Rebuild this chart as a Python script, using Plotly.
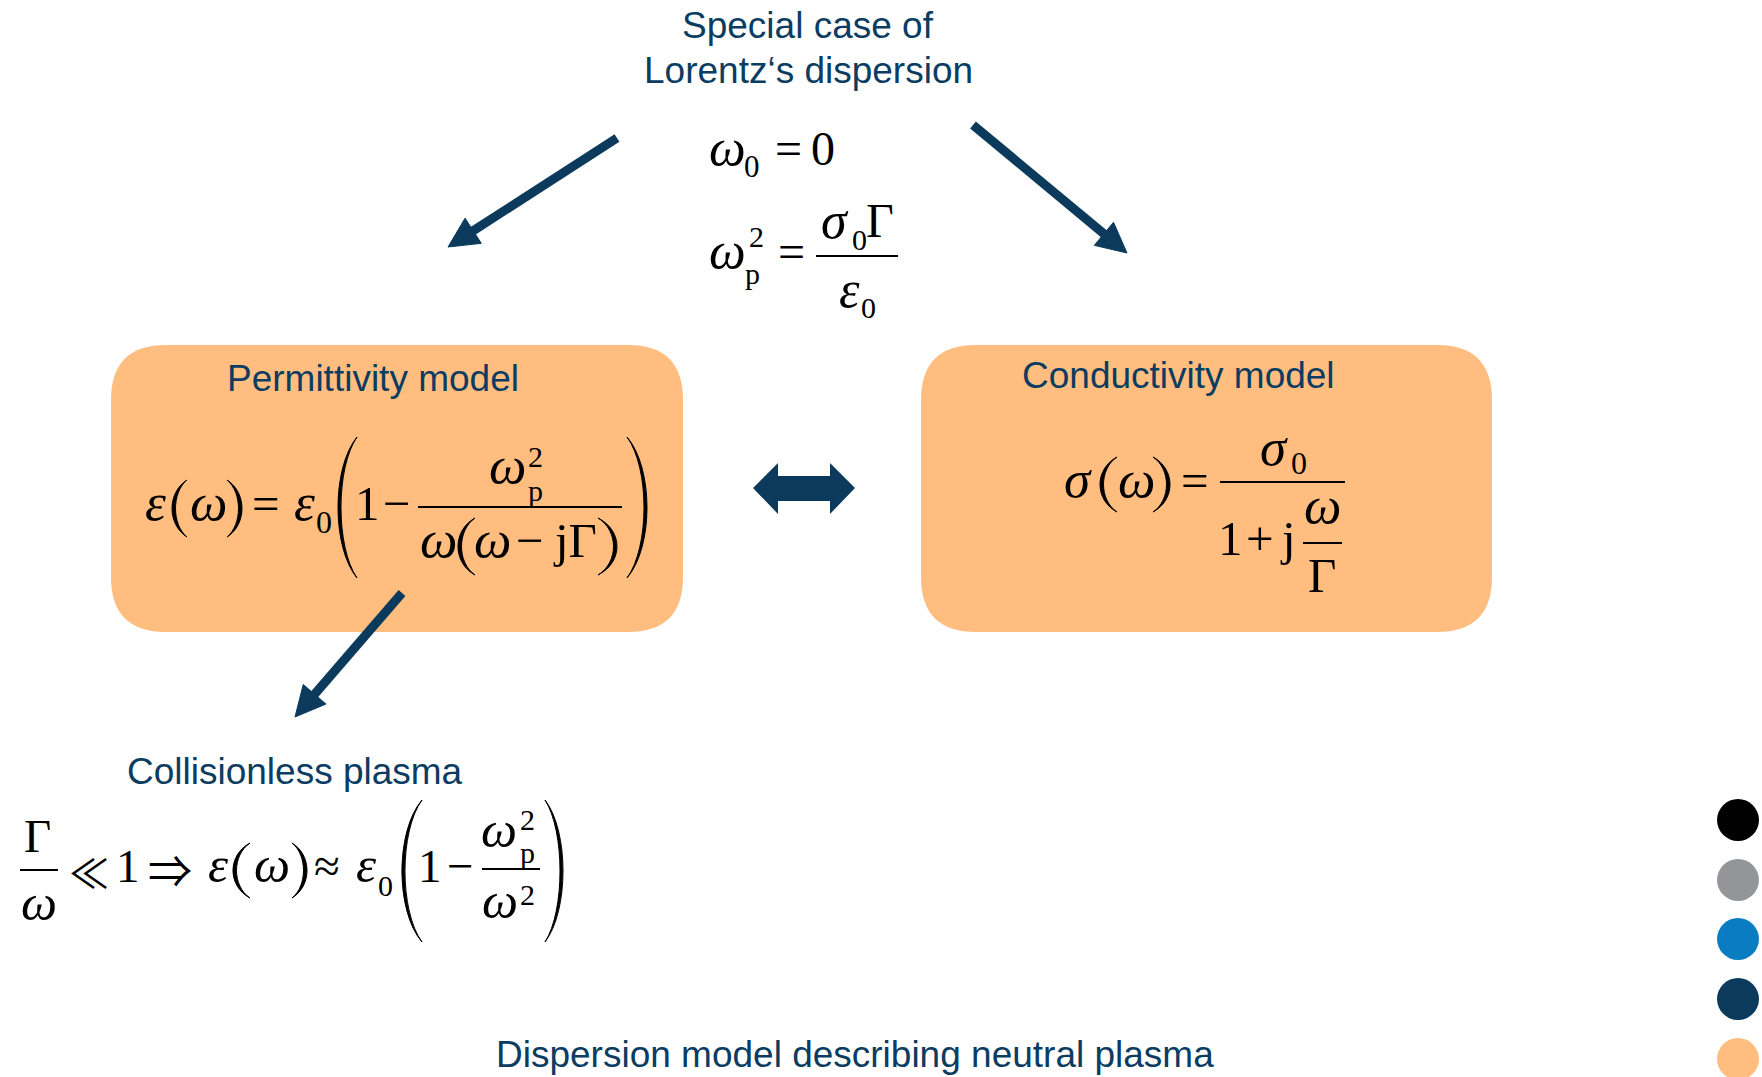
import math
import plotly.graph_objects as go

W, H = 1762, 1077

# ---------------- content ----------------
title_lines = ["Special case of", "Lorentz‘s dispersion"]
box_titles = ["Permittivity model", "Conductivity model"]
sub_title = "Collisionless plasma"
footer = "Dispersion model describing neutral plasma"
palette = ["#000000", "#939598", "#0A7DC2", "#0B3A5C", "#FFBE7F"]

TEXT_BLUE = "#0B3C61"
NAVY = "#0B3A5C"
ORANGE = "#FFBE7F"
SERIF = "Liberation Serif, Times New Roman, serif"
SANS = "Liberation Sans, Arial, sans-serif"
SYMB = "Noto Sans CJK JP, DejaVu Serif, serif"
GREEK = set("εωσ")
GREEK_SCALE = 1.08

# ---------------- layout (pixel positions) ----------------
# formula glyphs: (text, x_center, baseline, size, italic)
eq_top1 = [("ω", 727, 165, 48, True), ("0", 752, 177, 31, False),
           ("=", 788, 165, 48, False), ("0", 823, 165, 48, False)]
eq_top2 = [("ω", 727, 268, 48, True), ("2", 756, 247, 30, False), ("p", 752, 284, 30, False),
           ("=", 791, 268, 48, False),
           ("σ", 835, 238, 48, True), ("0", 859, 250, 30, False), ("Γ", 880, 237, 48, False),
           ("ε", 849, 307, 48, True), ("0", 868, 318, 30, False)]
eq_perm = [("ε", 155, 520, 49, True), ("ω", 208, 520, 49, True), ("=", 266, 520, 49, False),
           ("ε", 304, 520, 49, True), ("0", 324, 533, 32, False),
           ("1", 367, 520, 49, False), ("−", 397, 520, 49, False),
           ("ω", 507, 483, 49, True), ("2", 535, 467, 30, False), ("p", 535, 501, 30, False),
           ("ω", 438, 557, 49, True), ("ω", 492, 557, 49, True), ("−", 530, 557, 49, False),
           ("jΓ", 575, 557, 49, False)]
eq_cond = [("σ", 1078, 497, 49, True), ("ω", 1136, 497, 49, True), ("=", 1195, 497, 49, False),
           ("σ", 1274, 465, 49, True), ("0", 1299, 474, 32, False),
           ("1", 1230, 555, 49, False), ("+", 1260, 555, 49, False), ("j", 1288, 555, 49, False),
           ("ω", 1322, 523, 49, True), ("Γ", 1322, 592, 49, False)]
eq_coll = [("Γ", 37, 852, 47, False), ("ω", 39, 920, 47, True),
           ("1", 128, 882, 47, False),
           ("ε", 218, 882, 47, True), ("ω", 272, 882, 47, True), ("≈", 327, 882, 47, False),
           ("ε", 366, 882, 47, True), ("0", 385, 896, 30, False),
           ("1", 430, 882, 47, False), ("−", 460, 882, 47, False),
           ("ω", 499, 847, 47, True), ("2", 527, 830, 30, False), ("p", 527, 863, 30, False),
           ("ω", 500, 918, 47, True), ("2", 527, 905, 30, False)]
eq_coll_sym = [("≪", 89, 886, 40), ("⇒", 170, 886, 44)]

# fraction bars: (x0, x1, y)
bars = [(816, 898, 256), (418, 622, 507), (1220, 1345, 482), (1303, 1342, 543),
        (20, 58, 870), (482, 540, 869)]
# parentheses: (side, x_left, x_right, y_top, y_bottom, thickness)
parens = [("(", 172, 187, 480, 537, 3.5), (")", 227, 242, 480, 537, 3.5),
          ("(", 338, 357, 437, 578, 3.0), (")", 627, 647, 437, 578, 3.0),
          ("(", 458, 475, 518, 575, 3.5), (")", 598, 617, 518, 575, 3.5),
          ("(", 1100, 1117, 457, 512, 3.5), (")", 1153, 1170, 457, 512, 3.5),
          ("(", 233, 250, 843, 898, 3.5), (")", 292, 307, 843, 898, 3.5),
          ("(", 402, 422, 800, 942, 3.0), (")", 545, 563, 800, 942, 3.0)]
# arrows: (x_start, y_start, x_tip, y_tip)
arrows = [(617, 138, 448, 247), (973, 125, 1127, 253), (402, 593, 295, 717)]
boxes = [(111, 345, 683, 632), (921, 345, 1492, 632)]
circle_cx, circle_cy, circle_r = 1738, [820, 880, 939, 999, 1059], 21

shapes = []
annotations = []


def serif_ann(txt, x, base, size, italic):
    if txt in GREEK:
        size = round(size * GREEK_SCALE)
    t = f"<i>{txt}</i>" if italic else txt
    annotations.append(dict(x=x, y=base - 0.3375 * size, xref="x", yref="y", text=t,
                            showarrow=False, xanchor="center", yanchor="middle",
                            borderpad=0,
                            font=dict(family=SERIF, size=size, color="black")))


def symb_ann(txt, x, base, size):
    annotations.append(dict(x=x, y=base - 0.38 * size, xref="x", yref="y", text=txt,
                            showarrow=False, xanchor="center", yanchor="middle",
                            borderpad=0,
                            font=dict(family=SYMB, size=size, color="black")))


def sans_ann(txt, x, y, size=37):
    annotations.append(dict(x=x, y=y, xref="x", yref="y", text=txt, showarrow=False,
                            xanchor="center", yanchor="middle",
                            font=dict(family=SANS, size=size, color=TEXT_BLUE)))


def rounded_box(x0, y0, x1, y1, r, color):
    p = (f"M {x0 + r},{y0} L {x1 - r},{y0} Q {x1},{y0} {x1},{y0 + r} "
         f"L {x1},{y1 - r} Q {x1},{y1} {x1 - r},{y1} L {x0 + r},{y1} "
         f"Q {x0},{y1} {x0},{y1 - r} L {x0},{y0 + r} Q {x0},{y0} {x0 + r},{y0} Z")
    shapes.append(dict(type="path", path=p, xref="x", yref="y", fillcolor=color,
                       line=dict(width=0), layer="below"))


def paren(side, xl, xr, yt, yb, thick):
    h = yb - yt
    if side == "(":
        xe, xm, sgn = xr, xl, 1
    else:
        xe, xm, sgn = xl, xr, -1
    xco = (xm - 0.25 * xe) / 0.75
    xci = (xm + sgn * thick - 0.25 * xe) / 0.75
    a, b = yt + 0.22 * h, yb - 0.22 * h
    p = (f"M {xe},{yt} C {xco},{a} {xco},{b} {xe},{yb} "
         f"C {xci},{b} {xci},{a} {xe},{yt} Z")
    shapes.append(dict(type="path", path=p, xref="x", yref="y", fillcolor="black",
                       line=dict(color="black", width=1)))


def arrow(x0, y0, x1, y1, width=9, head_len=30, head_w=15):
    dx, dy = x1 - x0, y1 - y0
    L = math.hypot(dx, dy)
    ux, uy = dx / L, dy / L
    px, py = -uy, ux
    bx, by = x1 - ux * head_len, y1 - uy * head_len
    shapes.append(dict(type="line", x0=x0, y0=y0, x1=bx + ux * 3, y1=by + uy * 3,
                       xref="x", yref="y", line=dict(color=NAVY, width=width)))
    p = (f"M {x1},{y1} L {bx + px * head_w},{by + py * head_w} "
         f"L {bx - px * head_w},{by - py * head_w} Z")
    shapes.append(dict(type="path", path=p, xref="x", yref="y", fillcolor=NAVY,
                       line=dict(color=NAVY, width=1)))


# boxes
for (x0, y0, x1, y1) in boxes:
    rounded_box(x0, y0, x1, y1, 55, ORANGE)

# arrows
for a in arrows:
    arrow(*a)

# double arrow
da = [(753, 488), (778, 463), (778, 476), (830, 476), (830, 463), (855, 488),
      (830, 514), (830, 501), (778, 501), (778, 514)]
shapes.append(dict(type="path", xref="x", yref="y", fillcolor=NAVY, line=dict(width=0),
                   path="M " + " L ".join(f"{x},{y}" for x, y in da) + " Z"))

# fraction bars
for (x0, x1, y) in bars:
    shapes.append(dict(type="line", x0=x0, x1=x1, y0=y, y1=y, xref="x", yref="y",
                       line=dict(color="black", width=2)))

# parentheses
for pr in parens:
    paren(*pr)

# palette circles
for cy, col in zip(circle_cy, palette):
    shapes.append(dict(type="circle", xref="x", yref="y", x0=circle_cx - circle_r,
                       x1=circle_cx + circle_r, y0=cy - circle_r, y1=cy + circle_r,
                       fillcolor=col, line=dict(width=0)))

# formulas
for eq in (eq_top1, eq_top2, eq_perm, eq_cond, eq_coll):
    for g in eq:
        serif_ann(*g)
for g in eq_coll_sym:
    symb_ann(*g)

# labels
sans_ann(title_lines[0], 808, 25)
sans_ann(title_lines[1], 808, 70)
sans_ann(box_titles[0], 373, 378)
sans_ann(box_titles[1], 1178, 375)
sans_ann(sub_title, 295, 771)
sans_ann(footer, 855, 1054)

fig = go.Figure()
fig.update_layout(
    width=W, height=H, margin=dict(l=0, r=0, t=0, b=0),
    paper_bgcolor="white", plot_bgcolor="white",
    xaxis=dict(range=[0, W], visible=False, fixedrange=True, showgrid=False, zeroline=False),
    yaxis=dict(range=[H, 0], visible=False, fixedrange=True, showgrid=False, zeroline=False),
    shapes=shapes, annotations=annotations, showlegend=False,
)

fig.write_html("out.html", config={"displayModeBar": False},
               post_script="document.body.style.margin='0';document.body.style.overflow='hidden';")
